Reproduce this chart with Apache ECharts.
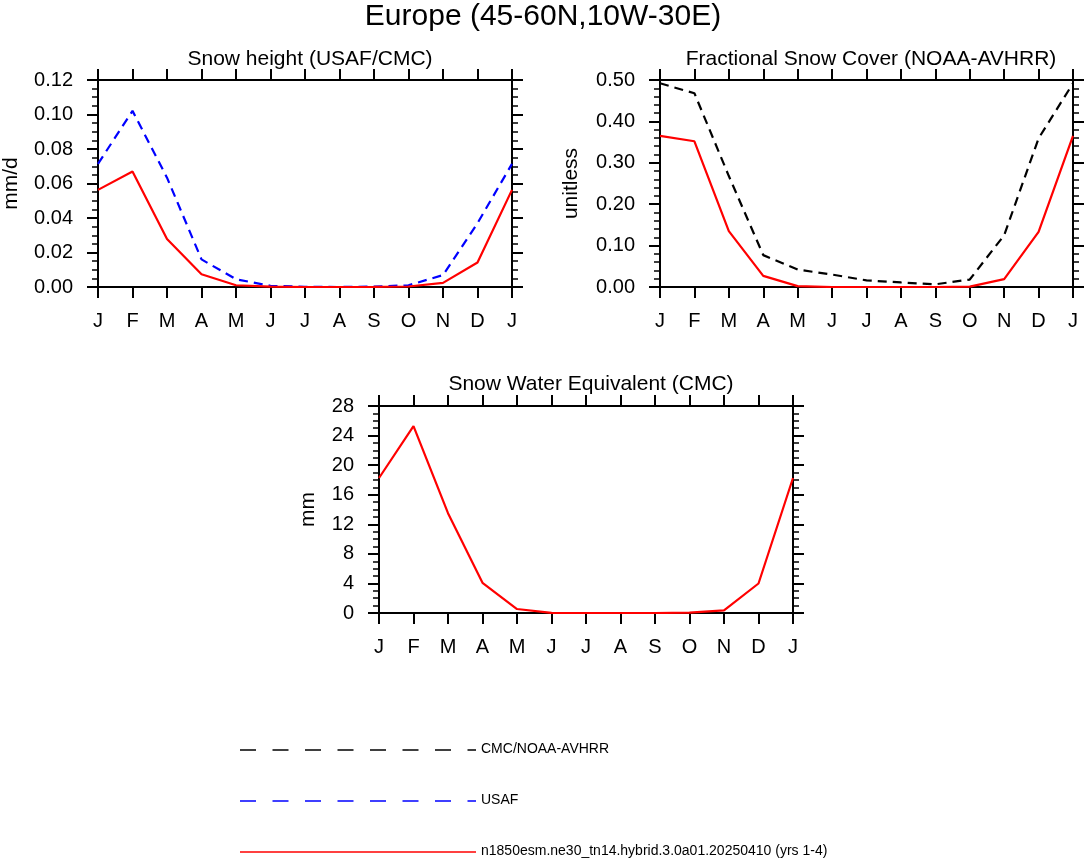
<!DOCTYPE html>
<html>
<head>
<meta charset="utf-8">
<script src="https://cdn.jsdelivr.net/npm/echarts@6/dist/echarts.min.js"></script>
<style>
html,body{margin:0;padding:0;background:#fff;}
#chart{width:1086px;height:859px;}
</style>
</head>
<body>
<div id="chart"></div>
<script>
var months = ['J','F','M','A','M','J','J','A','S','O','N','D','J'];
var snowHeightModel = [0.0563,0.0670,0.0278,0.0074,0.0010,0.0002,0.0000,0.0000,0.0001,0.0003,0.0024,0.0142,0.0563];
var snowHeightUSAF  = [0.0714,0.1021,0.0634,0.0160,0.0045,0.0007,0.0001,0.0000,0.0002,0.0010,0.0069,0.0370,0.0714];
var fscModel = [0.365,0.352,0.135,0.027,0.002,0.000,0.000,0.000,0.000,0.001,0.019,0.133,0.365];
var fscObs   = [0.492,0.468,0.268,0.077,0.042,0.030,0.016,0.011,0.0065,0.018,0.125,0.359,0.492];
var sweModel = [18.26,25.28,13.5,4.08,0.54,0.02,0.00,0.00,0.00,0.05,0.36,3.99,18.26];
var yTicks1 = {min:0, max:0.12, interval:0.02, digits:2, minor:4};
var yTicks2 = {min:0, max:0.50, interval:0.10, digits:2, minor:5};
var yTicks3 = {min:0, max:28, interval:4, digits:0, minor:4};
var titles = ['Snow height (USAF/CMC)','Fractional Snow Cover (NOAA-AVHRR)','Snow Water Equivalent (CMC)'];
var yNames = ['mm/d','unitless','mm'];
var nameModel = 'n1850esm.ne30_tn14.hybrid.3.0a01.20250410 (yrs 1-4)';
var nameObs = 'CMC/NOAA-AVHRR';
var nameUSAF = 'USAF';
var legendNames = [nameObs, nameUSAF, nameModel];
var legendColors = ['#000000', '#0000ff', '#ff0000'];

var FONT = 'Liberation Sans, Arial, Helvetica, sans-serif';
var grids = [
  {left:97, top:80, width:415, height:207},
  {left:660, top:80, width:413, height:207},
  {left:379, top:406, width:414, height:207}
];
var yCfg = [yTicks1, yTicks2, yTicks3];
var nameGaps = [76, 78, 60];

var xAxes = [], yAxes = [];
grids.forEach(function(g, i){
  var base = {
    gridIndex:i, type:'value', min:0, max:12, interval:1,
    axisLine:{show:true, onZero:false, lineStyle:{color:'#000', width:2}},
    axisTick:{show:true, inside:false, length:11, lineStyle:{color:'#000', width:2}},
    splitLine:{show:false}
  };
  xAxes.push(Object.assign({}, base, {
    position:'bottom',
    axisLabel:{show:true, margin:24, color:'#000', fontSize:20, fontFamily:FONT,
      formatter:function(v){ return months[Math.round(v)]; }}
  }));
  xAxes.push(Object.assign({}, base, {position:'top', axisLabel:{show:false}}));
  var c = yCfg[i];
  var ybase = {
    gridIndex:i, type:'value', min:c.min, max:c.max, interval:c.interval,
    axisLine:{show:true, onZero:false, lineStyle:{color:'#000', width:2}},
    axisTick:{show:true, inside:false, length:11, lineStyle:{color:'#000', width:2}},
    minorTick:{show:true, splitNumber:c.minor, length:6, lineStyle:{color:'#000', width:1.5}},
    splitLine:{show:false}, minorSplitLine:{show:false}
  };
  yAxes.push(Object.assign({}, ybase, {
    position:'left',
    name:yNames[i], nameLocation:'middle', nameGap:nameGaps[i],
    nameTextStyle:{color:'#000', fontSize:21, fontFamily:FONT},
    axisLabel:{show:true, margin:25, color:'#000', fontSize:20, fontFamily:FONT,
      formatter:function(v){ return v.toFixed(c.digits); }}
  }));
  yAxes.push(Object.assign({}, ybase, {position:'right', axisLabel:{show:false}}));
});

function xy(arr){ return arr.map(function(v,k){ return [k, v]; }); }
function line(name, data, gi, color, dash){
  return {
    name:name, type:'line', xAxisIndex:gi*2, yAxisIndex:gi*2, data:xy(data),
    symbol:'none', silent:true, animation:false, z:3,
    lineStyle:{color:color, width:2.2, type:dash || 'solid'},
    itemStyle:{color:color}
  };
}

// legend drawn as graphic (line sample + label)
var legendGraphics = [];
var legendY = [750, 801, 852];
legendNames.forEach(function(n, i){
  legendGraphics.push({
    type:'line', silent:true,
    shape:{x1:240, y1:legendY[i], x2:476, y2:legendY[i]},
    style:{stroke:legendColors[i], lineWidth:1.6, lineDash: i < 2 ? [16,16.5] : null}
  });
  legendGraphics.push({
    type:'text', silent:true, x:481, y:legendY[i] - 0.5,
    style:{text:n, fill:'#000', font:'14px ' + FONT, textVerticalAlign:'middle', verticalAlign:'middle'}
  });
});

var option = {
  animation:false,
  backgroundColor:'#fff',
  title:[
    {text:'Europe (45-60N,10W-30E)', left:'center', top:-3,
     textStyle:{fontSize:30, fontWeight:'normal', color:'#000', fontFamily:FONT}},
    {text:titles[0], left:305, top:44, textAlign:'center',
     textStyle:{fontSize:21, fontWeight:'normal', color:'#000', fontFamily:FONT}},
    {text:titles[1], left:866, top:44, textAlign:'center',
     textStyle:{fontSize:21, fontWeight:'normal', color:'#000', fontFamily:FONT}},
    {text:titles[2], left:586, top:369, textAlign:'center',
     textStyle:{fontSize:21, fontWeight:'normal', color:'#000', fontFamily:FONT}}
  ],
  grid:grids,
  xAxis:xAxes,
  yAxis:yAxes,
  graphic:legendGraphics,
  series:[
    line(nameUSAF, snowHeightUSAF, 0, '#0000ff', [9,6]),
    line(nameModel, snowHeightModel, 0, '#ff0000'),
    line(nameObs, fscObs, 1, '#000000', [9,6]),
    line(nameModel, fscModel, 1, '#ff0000'),
    line(nameModel, sweModel, 2, '#ff0000')
  ]
};
var chart = echarts.init(document.getElementById('chart'), null, {renderer:'canvas'});
chart.setOption(option);
</script>
</body>
</html>
